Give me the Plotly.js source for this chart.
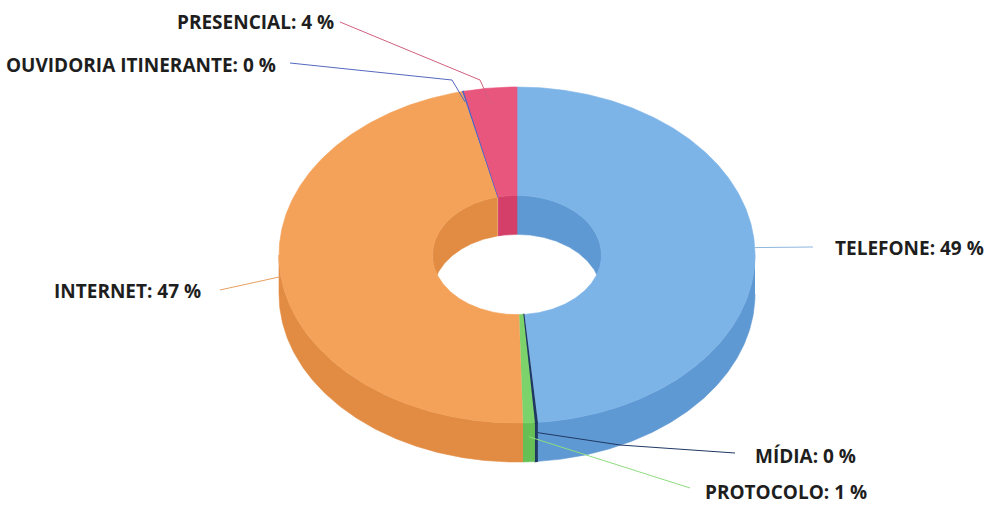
<!DOCTYPE html>
<html><head><meta charset="utf-8">
<script src="https://cdn.plot.ly/plotly-3.0.1.min.js"></script>
<style>html,body{margin:0;padding:0;background:#fff}#chart{width:985px;height:505px}</style>
</head><body><div id="chart"></div>
<script>
// ---- data (clockwise from 12 o'clock) ----
var categories = ["TELEFONE", "MÍDIA", "PROTOCOLO", "INTERNET", "OUVIDORIA ITINERANTE", "PRESENCIAL"];
var values = [48.6, 0.2, 0.8, 46.7, 0.1, 3.6];

// ---- styles ----
var topColors  = ["#7DB4E8", "#1F3864", "#7DD36B", "#F4A25A", "#4B62C4", "#E8567D"];
var sideColors = ["#5F99D3", "#1F3864", "#66C055", "#E28C43", "#4B62C4", "#D43F69"];
var lineColors = ["#8FB8DF", "#1F3864", "#8FDC80", "#E8A060", "#5569C0", "#D0607E"];
// label placement (layout): [x, y, xanchor], elbow points
var labelPos = [[833, 248, "left"], [753, 456, "left"], [703, 492, "left"], [203, 291, "right"], [278, 65, "right"], [336, 22, "right"]];
var elbows = [null, [620, 445], null, null, [452, 80], [480, 80]];
var lineEnds = [[813, 247], [735, 453], [690, 488], [220, 290], [290, 63], [340, 22]];
var anchorShift = [0, 10, 14, 0, 4, 10];

var W = 985, H = 505;
var cx = 517, cy = 255, R = 238, r = 168, depth = 39, holeFrac = 0.355;
var Rh = R * holeFrac, rh = r * holeFrac;

function pt(th, rx, ry, dy) { return [cx + rx * Math.sin(th), cy - ry * Math.cos(th) + dy]; }
function arc(a, b, rx, ry, dy) {
  var n = Math.max(2, Math.ceil(Math.abs(b - a) / 0.01));
  var out = [];
  for (var i = 0; i <= n; i++) out.push(pt(a + (b - a) * i / n, rx, ry, dy));
  return out;
}
function poly(points, fill, lw) {
  return { type: "scatter", mode: "lines", x: points.map(function (p) { return p[0]; }), y: points.map(function (p) { return p[1]; }),
    fill: "toself", fillcolor: fill, line: { color: fill, width: lw }, hoverinfo: "skip", showlegend: false };
}

var total = values.reduce(function (s, v) { return s + v; }, 0);
var starts = [], ends = [], acc = 0;
values.forEach(function (v) { starts.push(acc / total * 2 * Math.PI); acc += v; ends.push(acc / total * 2 * Math.PI); });

var traces = [];
// outer side walls (front half)
values.forEach(function (v, i) {
  var s = Math.max(starts[i], Math.PI / 2), e = Math.min(ends[i], 3 * Math.PI / 2);
  if (s <= e) {
    var pts = arc(s, e, R, r, 0).concat(arc(e, s, R, r, depth));
    traces.push(poly(pts, sideColors[i], v < 0.5 ? 1.3 : 0.6));
  }
});
// inner walls (back half of the hole)
var ranges = [[0, Math.PI / 2], [3 * Math.PI / 2, 2 * Math.PI]];
values.forEach(function (v, i) {
  ranges.forEach(function (rg) {
    var s = Math.max(starts[i], rg[0]), e = Math.min(ends[i], rg[1]);
    if (s <= e && !(v < 0.5)) {
      var pts = arc(s, e, Rh, rh, 0).concat(arc(e, s, Rh, rh, depth));
      traces.push(poly(pts, sideColors[i], 0.6));
    }
  });
});
// top faces
values.forEach(function (v, i) {
  var pts = arc(starts[i], ends[i], R, r, 0).concat(arc(ends[i], starts[i], Rh, rh, 0));
  traces.push(poly(pts, topColors[i], v < 0.5 ? 1.3 : 0.6));
});
// leader lines
var annotations = [];
values.forEach(function (v, i) {
  var mid = (starts[i] + ends[i]) / 2;
  var f = (i === 5 || i === 4) ? 0.96 : 1.0;
  var a = pt(mid, R * f, r * f, anchorShift[i]);
  var pts = [a];
  if (elbows[i]) pts.push(elbows[i]);
  pts.push(lineEnds[i]);
  traces.push({ type: "scatter", mode: "lines", x: pts.map(function (p) { return p[0]; }), y: pts.map(function (p) { return p[1]; }),
    line: { color: lineColors[i], width: 1 }, hoverinfo: "skip", showlegend: false });
  annotations.push({ x: labelPos[i][0], y: labelPos[i][1], xref: "x", yref: "y", xanchor: labelPos[i][2], yanchor: "middle",
    text: categories[i] + ": " + Math.round(v / total * 100) + " %", showarrow: false,
    font: { family: "Open Sans, sans-serif", size: 19, color: "#1e1e1e", weight: 700 } });
});

var layout = {
  width: W, height: H, margin: { l: 0, r: 0, t: 0, b: 0 },
  paper_bgcolor: "#fff", plot_bgcolor: "#fff", showlegend: false,
  xaxis: { range: [0, W], visible: false, fixedrange: true },
  yaxis: { range: [H, 0], visible: false, fixedrange: true },
  annotations: annotations
};
Plotly.newPlot("chart", traces, layout, { staticPlot: true, displayModeBar: false });
</script></body></html>
